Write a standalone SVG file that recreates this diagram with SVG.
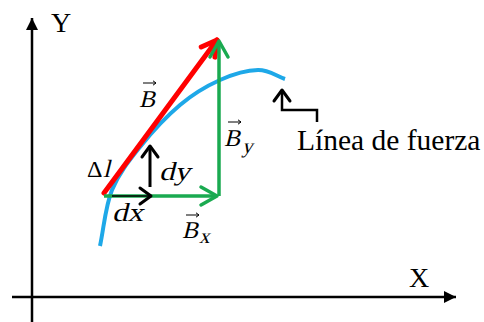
<svg xmlns="http://www.w3.org/2000/svg" width="484" height="322" viewBox="0 0 484 322">
<style>
.ax{stroke:#000;stroke-width:2.5;fill:none}
.t{font-family:"Liberation Serif","Times New Roman",serif;fill:#000}
.vec{stroke:#000;stroke-width:1;fill:none}
</style>
<defs>
<marker id="mk" markerUnits="userSpaceOnUse" markerWidth="30" markerHeight="30" viewBox="-20 -15 30 30" refX="0" refY="0" orient="auto" overflow="visible">
<path d="M-12,-6 L0,0 L-12,6 Z" fill="#000"/>
</marker>
<marker id="mr" markerUnits="userSpaceOnUse" markerWidth="40" markerHeight="40" viewBox="-20 -20 40 40" refX="0" refY="0" orient="auto" overflow="visible">
<path d="M-15,-8.5 L0,0 L-15,8.5" fill="none" stroke="#ff0000" stroke-width="5" stroke-linecap="round" stroke-linejoin="round"/>
</marker>
<marker id="mg" markerUnits="userSpaceOnUse" markerWidth="40" markerHeight="40" viewBox="-20 -20 40 40" refX="0" refY="0" orient="auto" overflow="visible">
<path d="M-16,-9 L0,0 L-16,9" fill="none" stroke="#1aaa50" stroke-width="3.5" stroke-linecap="round" stroke-linejoin="round"/>
</marker>
<marker id="mb" markerUnits="userSpaceOnUse" markerWidth="30" markerHeight="30" viewBox="-15 -15 30 30" refX="0" refY="0" orient="auto" overflow="visible">
<path d="M-11,-8 L0,0 L-11,8" fill="none" stroke="#000" stroke-width="3" stroke-linecap="round" stroke-linejoin="round"/>
</marker>
<marker id="mv" markerUnits="userSpaceOnUse" markerWidth="10" markerHeight="10" viewBox="-5 -5 10 10" refX="0" refY="0" orient="auto" overflow="visible">
<path d="M-3,-2.2 L0,0 L-3,2.2" fill="none" stroke="#000" stroke-width="1"/>
</marker>
</defs>

<g id="axes">
<line class="ax" x1="32" y1="322" x2="32" y2="18" marker-end="url(#mk)"/>
<line class="ax" x1="12" y1="297" x2="456" y2="297" marker-end="url(#mk)"/>
<text class="t" x="51" y="32" font-size="28">Y</text>
<text class="t" x="409" y="287" font-size="28">X</text>
</g>

<g id="fieldline">
<path d="M100,246 C104,227 105.3,206.5 112,190 C118.7,173.5 128.7,161.2 140,147 C151.3,132.8 166.7,116.2 180,105 C193.3,93.8 207,85.8 220,80 C233,74.2 247.2,70.2 258,70 C268.8,69.8 276,76 285,79" fill="none" stroke="#1ea8e8" stroke-width="4"/>
</g>

<g id="connectors">
<line x1="104" y1="193" x2="217" y2="40" stroke="#ff0000" stroke-width="5" stroke-linecap="round" marker-end="url(#mr)"/>
<line x1="104" y1="196" x2="217" y2="196" stroke="#1aaa50" stroke-width="3.5" marker-end="url(#mg)"/>
<line x1="219" y1="196" x2="219" y2="41" stroke="#1aaa50" stroke-width="3.5" marker-end="url(#mg)"/>
<line x1="112" y1="196" x2="151" y2="196" stroke="#000" stroke-width="1.5" marker-end="url(#mb)"/>
<line x1="150" y1="187" x2="150" y2="146" stroke="#000" stroke-width="3" marker-end="url(#mb)"/>
<polyline points="317,122 317,110 282,110 282,90" fill="none" stroke="#000" stroke-width="2.5" marker-end="url(#mb)"/>
</g>

<g id="labels">
<text class="t" transform="translate(139,107) skewX(-14)" font-size="24">B</text>
<line class="vec" x1="143" y1="83" x2="156" y2="83" marker-end="url(#mv)"/>
<text class="t" transform="translate(224,146) skewX(-14)" font-size="24">B</text>
<text class="t" transform="translate(242,153) skewX(-14)" font-size="21">y</text>
<line class="vec" x1="228" y1="122" x2="241" y2="122" marker-end="url(#mv)"/>
<text class="t" transform="translate(182,238) skewX(-14)" font-size="24">B</text>
<text class="t" transform="translate(199,243) skewX(-14)" font-size="21">x</text>
<line class="vec" x1="186" y1="215" x2="199" y2="215" marker-end="url(#mv)"/>
<text class="t" x="87" y="177" font-size="24">Δ</text>
<text class="t" transform="translate(103,177) skewX(-14)" font-size="25">l</text>
<text class="t" transform="translate(159,180) skewX(-14)" font-size="26" textLength="31" lengthAdjust="spacingAndGlyphs">dy</text>
<text class="t" transform="translate(112,221) skewX(-14)" font-size="26" textLength="31" lengthAdjust="spacingAndGlyphs">dx</text>
<text class="t" x="297" y="150" font-size="29.5">Línea de fuerza</text>
</g>
</svg>
